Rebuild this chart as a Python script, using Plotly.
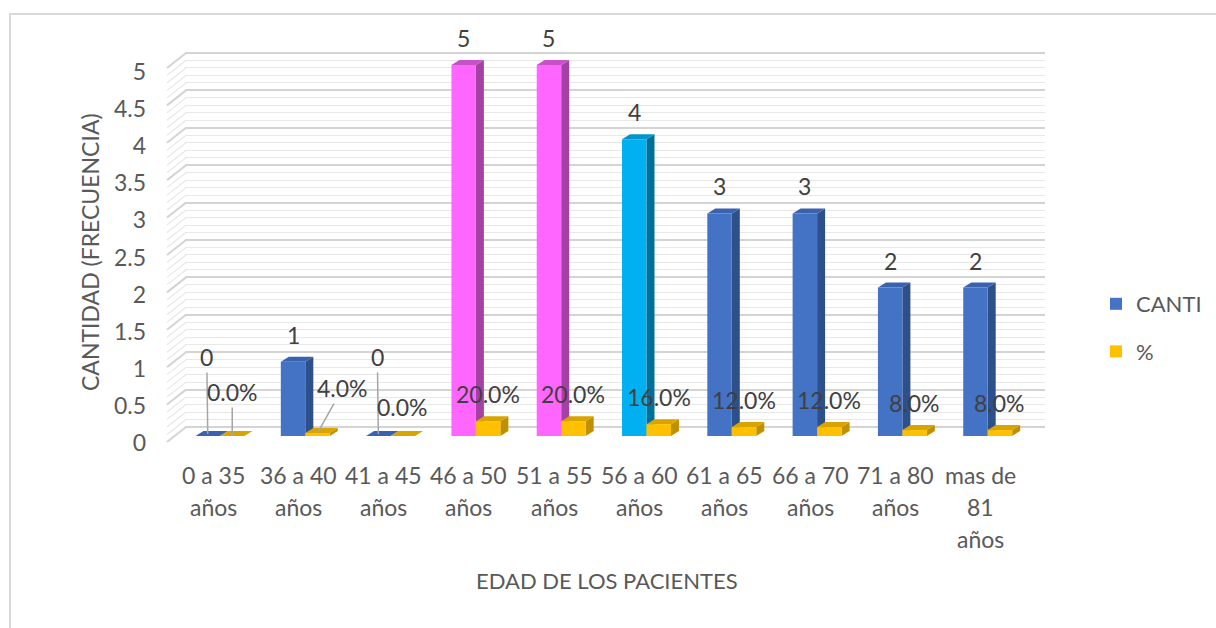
import plotly.graph_objects as go

# ---- data -------------------------------------------------------------
categorias = ["0 a 35<br>años", "36 a 40<br>años", "41 a 45<br>años", "46 a 50<br>años",
              "51 a 55<br>años", "56 a 60<br>años", "61 a 65<br>años", "66 a 70<br>años",
              "71 a 80<br>años", "mas de<br>81<br>años"]
canti = [0, 1, 0, 5, 5, 4, 3, 3, 2, 2]
porcentaje = [0.0, 0.04, 0.0, 0.20, 0.20, 0.16, 0.12, 0.12, 0.08, 0.08]
y_ticks = [0, 0.5, 1, 1.5, 2, 2.5, 3, 3.5, 4, 4.5, 5]

# ---- styling ----------------------------------------------------------
FONT = "Lato, 'Open Sans', sans-serif"
TXT = "#595959"
LBL = "#404040"
BLUE = ("#4472C4", "#2D4F8A", "#3A62AE")      # front, side, top
PINK = ("#FF66FF", "#A540A5", "#C652C6")
CYAN = ("#00B0F0", "#00709A", "#0096CC")
GOLD = ("#FFC000", "#BF9000", "#D9A400")
canti_style = [BLUE, BLUE, BLUE, PINK, PINK, CYAN, BLUE, BLUE, BLUE, BLUE]

W, H = 1216, 628
L, R, T, B = 185, 171, 40, 178
plot_w, plot_h = W - L - R, H - T - B

# pixel anchors of the front plane (bars) and back wall (grid)
px_per_cat = 85.3
x_first = 220.0
x_range = [-(x_first - L) / px_per_cat, 9 + (W - R - (x_first + 9 * px_per_cat)) / px_per_cat]

def yrange(zero_px, unit_px):
    top, bot = T, H - B
    return [(zero_px - bot) / unit_px, (zero_px - top) / unit_px]

bar_range = yrange(436, 74.2)
grid_range = yrange(427, 74.8)

bw = 0.287           # bar width in category units
dx = 8 / px_per_cat  # depth offset, x
dy = 5 / 74.2        # depth offset, y

idx = list(range(len(categorias)))
x_blue = [i - bw / 2 for i in idx]
x_gold = [i + bw / 2 for i in idx]

fig = go.Figure()
fig.add_trace(go.Bar(x=x_blue, y=canti, width=bw, name="CANTI", legendgroup="a",
                     marker=dict(color=[s[0] for s in canti_style], line=dict(width=0))))
fig.add_trace(go.Bar(x=x_gold, y=porcentaje, width=bw, name="%", legendgroup="b",
                     marker=dict(color=GOLD[0], line=dict(width=0))))

shapes = []

def add_box(xc, v, style):
    x0, x1 = xc - bw / 2, xc + bw / 2
    side = f"M{x1},0 L{x1+dx},{dy} L{x1+dx},{v+dy} L{x1},{v} Z"
    top = f"M{x0},{v} L{x1},{v} L{x1+dx},{v+dy} L{x0+dx},{v+dy} Z"
    for p, c in ((side, style[1]), (top, style[2])):
        shapes.append(dict(type="path", path=p, xref="x", yref="y", fillcolor=c,
                           line=dict(width=0), layer="between"))

for i in idx:
    add_box(x_blue[i], canti[i], canti_style[i])
    add_box(x_gold[i], porcentaje[i], GOLD)

# diagonal edges joining the back-wall grid to the front of the floor
minor_vals = [round(k * 0.1, 1) for k in range(0, 51) if k % 5]
for v in y_ticks + minor_vals:
    major = v in y_ticks
    shapes.append(dict(type="line", xref="paper", yref="y2",
                       x0=(167 - L) / plot_w, y0=v - 0.2, x1=(186 - L) / plot_w, y1=v,
                       line=dict(color="#D4D4D4" if major else "#E8E8E8", width=2 if major else 1.2),
                       layer="below"))

# outer chart frame
shapes.append(dict(type="rect", xref="paper", yref="paper",
                   x0=(10 - L) / plot_w, x1=(1240 - L) / plot_w,
                   y0=(H - B - 650) / plot_h, y1=(H - B - 14) / plot_h,
                   line=dict(color="#D9D9D9", width=2), fillcolor="rgba(0,0,0,0)", layer="below"))

annotations = []
# value labels
for i in idx:
    style = dict(font=dict(family=FONT, size=23, color=LBL), xref="x", yref="y")
    if canti[i] == 0:
        annotations.append(dict(x=x_blue[i], y=canti[i], text=str(canti[i]), showarrow=True,
                                arrowhead=0, arrowcolor="#A6A6A6", arrowwidth=1.5,
                                ax=-1, ay=-79, standoff=2, **style))
    else:
        annotations.append(dict(x=x_blue[i], y=canti[i], text=str(canti[i]), showarrow=False,
                                yshift=27, **style))
    ptxt = f"{porcentaje[i] * 100:.1f}%"
    if i == 0:
        annotations.append(dict(x=x_gold[i], y=porcentaje[i], text=ptxt, showarrow=True,
                                arrowhead=0, arrowcolor="#A6A6A6", arrowwidth=1.5,
                                ax=0, ay=-44, standoff=1, **style))
    elif i == 1:
        annotations.append(dict(x=x_gold[i], y=porcentaje[i], text=ptxt, showarrow=True,
                                arrowhead=0, arrowcolor="#A6A6A6", arrowwidth=1.5,
                                ax=25, ay=-45, standoff=1, **style))
    elif i == 2:
        annotations.append(dict(x=x_gold[i], y=porcentaje[i], text=ptxt, showarrow=False,
                                yshift=29, **style))
    else:
        annotations.append(dict(x=x_gold[i], y=porcentaje[i], text=ptxt, showarrow=False,
                                yshift=27, **style))

# category labels, one line at a time for the wide line spacing
for i, cat in enumerate(categorias):
    for k, line in enumerate(cat.split("<br>")):
        py = 475 + 32 * k
        annotations.append(dict(x=i, xshift=-7, xref="x", yref="paper", y=(H - B - py) / plot_h,
                                xanchor="center", yanchor="middle", text=line, showarrow=False,
                                font=dict(family=FONT, size=23, color=TXT)))

annotations.append(dict(x=(607 - L) / plot_w, y=(H - B - 580) / plot_h, xref="paper", yref="paper",
                        xanchor="center", yanchor="middle",
                        text="EDAD DE LOS PACIENTES", showarrow=False,
                        font=dict(family=FONT, size=22, color=TXT)))
annotations.append(dict(x=(90 - L) / plot_w, y=(H - B - 252) / plot_h, xref="paper", yref="paper",
                        xanchor="center", yanchor="middle",
                        text="CANTIDAD (FRECUENCIA)", textangle=-90, showarrow=False,
                        font=dict(family=FONT, size=23, color=TXT)))

fig.update_layout(
    width=W, height=H,
    margin=dict(l=L, r=R, t=T, b=B, autoexpand=False),
    paper_bgcolor="white", plot_bgcolor="rgba(0,0,0,0)",
    barmode="overlay", showlegend=True,
    font=dict(family=FONT, color=TXT),
    xaxis=dict(range=x_range, showgrid=False, zeroline=False, showticklabels=False,
               showline=False, ticks=""),
    yaxis=dict(range=bar_range, showgrid=False, zeroline=False, tickvals=y_ticks,
               ticktext=[f"{v:g}" for v in y_ticks], ticklabelshift=7, ticklabelstandoff=38,
               tickfont=dict(family=FONT, size=23, color=TXT), showline=False, ticks=""),
    yaxis2=dict(range=grid_range, overlaying="y", side="left", showticklabels=False,
                zeroline=False, tickvals=y_ticks, showgrid=True, gridcolor="#D4D4D4", gridwidth=2,
                minor=dict(tickvals=minor_vals, showgrid=True, gridcolor="#E8E8E8", gridwidth=1.2),
                ticks=""),
    legend=dict(x=1096 / W, xref="container", xanchor="left",
                y=1 - 283 / H, yref="container", yanchor="top",
                font=dict(family=FONT, size=22, color=TXT),
                tracegroupgap=16, bgcolor="rgba(0,0,0,0)"),
    shapes=shapes, annotations=annotations,
)
# an invisible trace on yaxis2 so the grid axis is drawn
fig.add_trace(go.Scatter(x=[0], y=[0], yaxis="y2", mode="markers", marker=dict(opacity=0),
                         showlegend=False, hoverinfo="skip"))

fig.write_html("out.html")
